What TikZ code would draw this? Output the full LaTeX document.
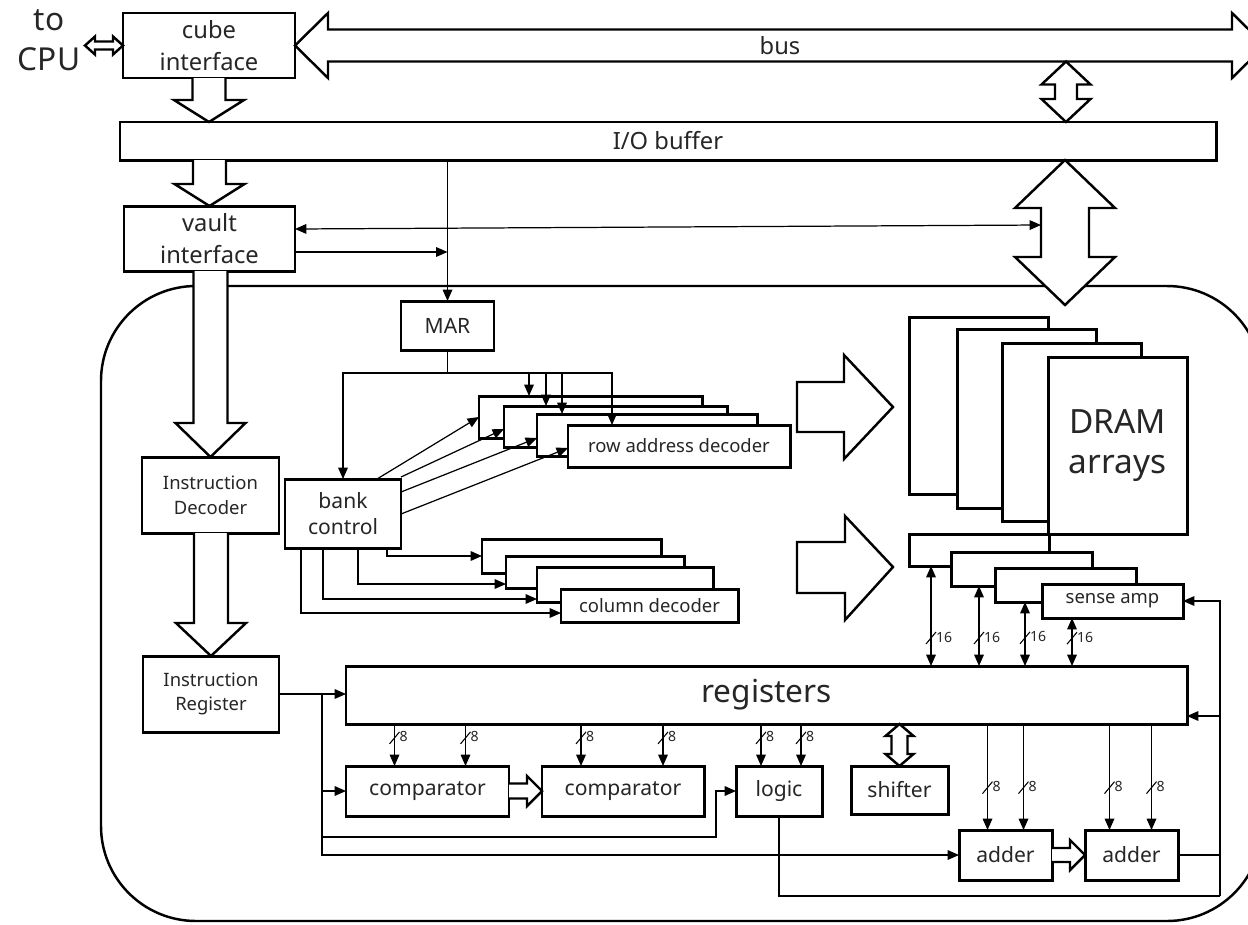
\documentclass[tikz,border=0pt]{standalone}
\usepackage{fontspec}
\setmainfont{Noto Sans}
\usetikzlibrary{arrows.meta,calc}

% one unit of the picture
\newcommand{\pxu}{0.02cm}

\tikzset{
  every node/.style={align=center, text=black!85},
  blk/.style 2 args={draw, line width=1.7pt, fill=white, inner sep=0pt, outer sep=0pt,
    minimum width=#1*\pxu, minimum height=#2*\pxu},
  wire/.style={line width=0.7pt, -{Triangle[length=6.5pt,width=5.5pt]}},
  wire2/.style={{Triangle[length=6.5pt,width=5.5pt]}-{Triangle[length=6.5pt,width=5.5pt]}},
  line/.style={line width=0.7pt},
  hollow/.style={draw, fill=white, line width=1.4pt},
  frame/.style={line width=1.4pt, rounded corners=1.9cm},
  big/.style={font=\fontsize{18}{22.5}\selectfont},
  huge/.style={font=\fontsize{19}{23}\selectfont},
  mid/.style={font=\fontsize{13.5}{18}\selectfont},
  std/.style={font=\fontsize{12}{15}\selectfont},
  sml/.style={font=\fontsize{10.5}{14}\selectfont},
  tiny8/.style={font=\fontsize{8}{9}\selectfont},
}

% hollow block arrows: from, to, half shaft, half head, head length
\newcommand{\blockdown}[5]{%
  \draw[hollow] let \p1=(#1), \p2=(#2) in
    (\x2-#3*\pxu,\y1) -- (\x2-#3*\pxu,\y2+#5*\pxu) -- (\x2-#4*\pxu,\y2+#5*\pxu) -- (\x2,\y2)
    -- (\x2+#4*\pxu,\y2+#5*\pxu) -- (\x2+#3*\pxu,\y2+#5*\pxu) -- (\x2+#3*\pxu,\y1);}
\newcommand{\blockright}[5]{%
  \draw[hollow] let \p1=(#1), \p2=(#2) in
    (\x1,\y2+#3*\pxu) -- (\x2-#5*\pxu,\y2+#3*\pxu) -- (\x2-#5*\pxu,\y2+#4*\pxu) -- (\x2,\y2)
    -- (\x2-#5*\pxu,\y2-#4*\pxu) -- (\x2-#5*\pxu,\y2-#3*\pxu) -- (\x1,\y2-#3*\pxu);}
\newcommand{\blockvboth}[5]{%
  \draw[hollow] let \p1=(#1), \p2=(#2) in
    (\x1,\y1) -- (\x1+#4*\pxu,\y1-#5*\pxu) -- (\x1+#3*\pxu,\y1-#5*\pxu) -- (\x1+#3*\pxu,\y2+#5*\pxu)
    -- (\x1+#4*\pxu,\y2+#5*\pxu) -- (\x1,\y2) -- (\x1-#4*\pxu,\y2+#5*\pxu) -- (\x1-#3*\pxu,\y2+#5*\pxu)
    -- (\x1-#3*\pxu,\y1-#5*\pxu) -- (\x1-#4*\pxu,\y1-#5*\pxu) -- cycle;}
\newcommand{\blockhboth}[5]{%
  \draw[hollow] let \p1=(#1), \p2=(#2) in
    (\x1,\y1) -- (\x1+#5*\pxu,\y1+#4*\pxu) -- (\x1+#5*\pxu,\y1+#3*\pxu) -- (\x2-#5*\pxu,\y1+#3*\pxu)
    -- (\x2-#5*\pxu,\y1+#4*\pxu) -- (\x2,\y1) -- (\x2-#5*\pxu,\y1-#4*\pxu) -- (\x2-#5*\pxu,\y1-#3*\pxu)
    -- (\x1+#5*\pxu,\y1-#3*\pxu) -- (\x1+#5*\pxu,\y1-#4*\pxu) -- cycle;}

% bus wire with width mark: [style], from, to, pos, width
\newcommand{\buslink}[5][]{%
  \draw[wire,#1] (#2) -- coordinate[pos=#4] (bx) (#3);
  \draw[line width=0.6pt] ($(bx)+(-5,6)$) -- ($(bx)+(5,-6)$);
  \node[tiny8, anchor=west, inner sep=1pt] (bl) at ($(bx)+(3,-1)$) {#5};}
\newcommand{\regdrop}[3]{%
  \coordinate (dt) at ($(#1.north)+(#2,0)$);
  \buslink{dt |- regs.south}{dt}{#3}{8}}

\begin{document}
\begin{tikzpicture}[x=0.02cm, y=-0.02cm]
    \useasboundingbox (0,0) rectangle (1248,924);

    % vault logic frame
    \draw[frame] (101,286) rectangle (1262,921);

    % interface side
    \node[big] (cpu) at (49,40) {to\\CPU};
    \node[blk={172}{65}, mid] (cube) at (209,45.5) {cube\\interface};
    \node[blk={1096}{38}, mid] (iobuf) at (668,141) {I/O buffer};
    \node[blk={171}{65}, mid] (vault) at (209.5,238.5) {vault\\interface};

    \node[blk={137}{76}, sml] (idec) at (210.5,495) {Instruction\\Decoder};
    \node[blk={136}{76}, sml] (ireg) at (211,694) {Instruction\\Register};

    \node[blk={93}{49}, std] (mar) at (447.5,325.5) {MAR};
    \node[blk={116}{69}, std] (bank) at (343,513.5) {bank\\control};

    % decoders
    \node[blk={223}{42}] (row1) at (590.5,417) {};
    \node[blk={223}{41}] (row2) at (615.5,426.5) {};
    \node[blk={220}{42}] (row3) at (647,435) {};
    \node[blk={222}{42}, sml] (row4) at (679,446) {row address decoder};

    \node[blk={179}{34}] (col1) at (571.5,556) {};
    \node[blk={178}{32}] (col2) at (595,572) {};
    \node[blk={176}{35}] (col3) at (625,584.5) {};
    \node[blk={177}{33}, sml] (col4) at (649.5,605.5) {column decoder};

    % banks
    \node[blk={139}{177}] (dram1) at (978.5,405.5) {};
    \node[blk={139}{179}] (dram2) at (1026.5,418.5) {};
    \node[blk={139}{178}] (dram3) at (1071.5,432) {};
    \node[blk={139}{177}, huge] (dram4) at (1117.5,445.5) {DRAM\\arrays};

    \node[blk={140}{32}] (sa1) at (979,550) {};
    \node[blk={141}{34}] (sa2) at (1021.5,569) {};
    \node[blk={141}{34}] (sa3) at (1065.5,585) {};
    \node[blk={141}{34}, sml] (sa4) at (1112.5,601) {sense amp};

    % processing units
    \node[blk={841}{58}, big] (regs) at (766.5,695) {registers};
    \node[blk={163}{50}, std] (comp1) at (427.5,791) {comparator};
    \node[blk={162}{50}, std] (comp2) at (623,791) {comparator};
    \node[blk={86}{50}, std] (logic) at (779,791) {logic};
    \node[blk={97}{48}, std] (shift) at (899.5,790) {shifter};
    \node[blk={93}{50}, std] (add1) at (1005.5,855) {adder};
    \node[blk={93}{50}, std] (add2) at (1131.5,855) {adder};

    % block arrows
    \coordinate (cpuport) at (85,45.5);
    \coordinate (busend) at (1265,45.5);
    \coordinate (bustap) at (1066,61.5);
    \coordinate (ioport) at (1065,305);

    \blockhboth{cpuport}{cube.west}{4}{9}{10}
    \blockhboth{cube.east}{busend}{16}{32.5}{33}
    \node[mid] (buslbl) at (780,46) {bus};
    \blockvboth{bustap}{bustap |- iobuf.north}{11}{24.5}{23}
    \blockvboth{ioport |- iobuf.south}{ioport}{24}{50}{48}
    \blockdown{cube.south}{cube.south |- iobuf.north}{16.5}{35}{22}
    \blockdown{vault.north |- iobuf.south}{vault.north}{16.5}{35}{22}
    \blockdown{idec.north |- vault.south}{idec.north}{17}{35}{34}
    \blockdown{ireg.north |- idec.south}{ireg.north}{17}{35}{33}
    \blockright{comp1.east}{comp2.west}{7.5}{15}{15}
    \blockright{add1.east}{add2.west}{7}{15}{15}
    \blockvboth{shift.north |- regs.south}{shift.north}{8}{14}{12}

    \draw[hollow] (797,382) -- (844,382) -- (844,355) -- (893,407) -- (844,459) -- (844,432) -- (797,432) -- cycle;
    \draw[hollow] (797,542) -- (845,542) -- (845,516) -- (893,567) -- (845,620) -- (845,593) -- (797,593) -- cycle;

    % address path
    \coordinate (vin) at ($(vault.east)+(0,-9.5)$);
    \coordinate (ioleft) at (1041,225);
    \draw[wire,wire2] (vin) -- (ioleft);
    \coordinate (vout) at ($(vault.east)+(0,13.5)$);
    \draw[wire] (vout) -- (vout -| mar.north);
    \draw[wire] (iobuf.south -| mar.north) -- (mar.north);

    \coordinate (mbus) at ($(mar.south)+(0,23)$);
    \draw[line] (mar.south) -- (mbus);
    \draw[wire] (mbus) -| (bank.north);
    \draw[wire] (mbus) -| ($(row1.north west)+(50,0)$);
    \draw[wire] (mbus) -| ($(row2.north west)+(42,0)$);
    \draw[wire] (mbus) -| ($(row3.north west)+(25,0)$);
    \draw[wire] (mbus) -| ($(row4.north west)+(44,0)$);

    \draw[wire] ($(bank.north west)+(92,0)$) -- (row1.west);
    \draw[wire] ($(bank.north east)+(0,-2)$) -- ($(row2.west)+(0,2.5)$);
    \draw[wire] ($(bank.east)+(0,-21.5)$) -- ($(row3.west)+(0,3)$);
    \draw[wire] ($(bank.east)+(0,0.5)$) -- ($(row4.west)+(0,2)$);

    \draw[wire] ($(bank.south west)+(102,0)$) |- (col1.west);
    \draw[wire] ($(bank.south west)+(73,0)$) |- ($(col2.south west)+(0,-4)$);
    \draw[wire] ($(bank.south west)+(38,0)$) |- ($(col3.south west)+(0,-3)$);
    \draw[wire] ($(bank.south west)+(16,0)$) |- ($(col4.south west)+(0,-9)$);

    % instruction path
    \draw[wire] (ireg.east) -- (ireg.east -| regs.west);
    \coordinate (irtap) at ($(ireg.east)+(43,0)$);
    \draw[wire] (irtap) |- (comp1.west);
    \draw[wire] (irtap) |- ($(logic.west)+(-20,46)$) |- (logic.west);
    \draw[wire] (irtap) |- (add1.west);

    % data paths
    \coordinate (s1) at ($(sa1.south west)+(22,0)$);
    \coordinate (s2) at ($(sa2.south west)+(28,0)$);
    \coordinate (s3) at ($(sa3.south west)+(30,0)$);
    \coordinate (s4) at ($(sa4.south west)+(30,0)$);
    \buslink[wire2]{s1}{s1 |- regs.north}{.72}{16}
    \buslink[wire2]{s2}{s2 |- regs.north}{.65}{16}
    \buslink[wire2]{s3}{s3 |- regs.north}{.56}{16}
    \buslink[wire2]{s4}{s4 |- regs.north}{.42}{16}

    \regdrop{comp1}{-33}{.33}
    \regdrop{comp1}{38}{.33}
    \regdrop{comp2}{-42}{.33}
    \regdrop{comp2}{40}{.33}
    \regdrop{logic}{-18}{.33}
    \regdrop{logic}{22}{.33}
    \regdrop{add1}{-18}{.6}
    \regdrop{add1}{18}{.6}
    \regdrop{add2}{-22}{.6}
    \regdrop{add2}{20}{.6}

    % write back
    \coordinate (ret) at (1220,896);
    \draw[line] (logic.south) |- (ret);
    \draw[wire] (ret) |- (sa4.east);
    \coordinate (rin) at ($(regs.south east)+(0,-8)$);
    \draw[wire] (rin -| ret) -- (rin);
    \draw[line] (add2.east) -- (add2.east -| ret);
\end{tikzpicture}
\end{document}
